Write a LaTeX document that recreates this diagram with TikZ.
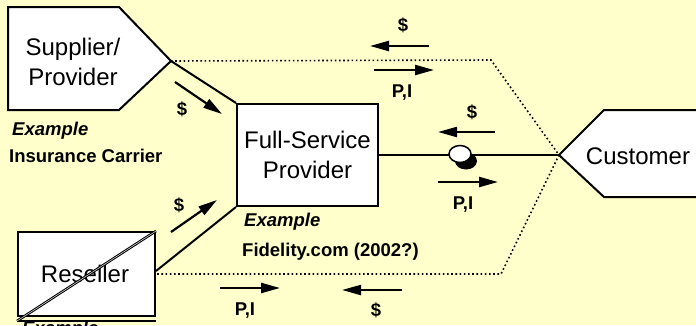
\documentclass[tikz,border=0pt]{standalone}
\usepackage{fontspec}
\setmainfont{Liberation Sans}
\usetikzlibrary{arrows.meta}
\definecolor{paper}{HTML}{FFFFCC}
\begin{document}
\begin{tikzpicture}[x=1pt,y=-1pt,
  outline/.style={draw=black,line width=2pt,fill=white,line join=miter},
  link/.style={line width=2pt},
  boundary/.style={line width=1.6pt,dash pattern=on 1.6pt off 2.6pt},
  flow/.style={line width=2.2pt,-{Triangle[length=19pt,width=10pt]}},
  tag/.style={font=\bfseries\fontsize{18.5}{20}\selectfont,inner sep=0pt},
  label/.style={font=\fontsize{24}{30}\selectfont,align=center,inner sep=0pt},
  exhead/.style={font=\bfseries\itshape\fontsize{18.5}{20}\selectfont,inner sep=0pt,anchor=base west},
  exbody/.style={font=\bfseries\fontsize{18.5}{20}\selectfont,inner sep=0pt,anchor=base west}]
\useasboundingbox (0,0) rectangle (696,325);
\clip (0,0) rectangle (696,325);
\fill[paper] (0,0) rectangle (696,325);

% corner points of the pentagon shapes
\coordinate (sup-tip) at (171,61);
\coordinate (cus-tip) at (559,155);
\coordinate (top-bend) at (491,60);
\coordinate (bot-bend) at (501,274);

% supplier pentagon
\draw[outline] (8,7) -- (119,7) -- (sup-tip) -- (119,110) -- (8,110) -- cycle;
\node[label] (sup) at (73,62) {Supplier/\\Provider};

% customer pentagon
\draw[outline] (cus-tip) -- (604,110) -- (705,110) -- (705,197) -- (604,197) -- cycle;
\node[label] (cus) at (638,156) {Customer};

% full-service provider box
\node[label,draw=black,line width=2pt,fill=white,minimum width=141pt,minimum height=102pt]
  (fsp) at (307.5,155) {Full-Service\\Provider};

% reseller box, crossed out
\node[label,draw=black,line width=2pt,fill=white,minimum width=137pt,minimum height=84pt]
  (res) at (86.5,274) {};
\draw[line width=1.4pt] ([yshift=-4pt]res.south west) -- ([yshift=-4pt]res.south east);
\node[label] (restext) at (85,274) {Reseller};
\draw[black,line width=1pt,double=gray!40,double distance=0.6pt]
  ([yshift=-4pt]res.south west) -- (res.north east);

% market boundary
\draw[boundary] (sup-tip) -- (top-bend) -- (cus-tip) -- (bot-bend) -- (res.east);

% channel links
\draw[link] (sup-tip) -- (fsp.north west);
\draw[link] ([yshift=3pt]res.east) -- (fsp.south west);
\draw[link] (fsp.east) -- (cus-tip);

% coin on the customer link
\coordinate (coin) at (460,154);
\fill[black] ([shift={(6,7)}]coin) ellipse [x radius=11, y radius=8.5];
\draw[line width=1.5pt,fill=white] (coin) ellipse [x radius=11, y radius=8.5];

% flow arrows
\coordinate (a1s) at (429,46);  \coordinate (a1e) at (370,46);
\coordinate (a2s) at (374,70);  \coordinate (a2e) at (434,70);
\coordinate (a3s) at (495,132); \coordinate (a3e) at (438,132);
\coordinate (a4s) at (438,182); \coordinate (a4e) at (498,182);
\coordinate (a5s) at (175,82);  \coordinate (a5e) at (222,114);
\coordinate (a6s) at (171,232); \coordinate (a6e) at (217,200);
\coordinate (a7s) at (220,288); \coordinate (a7e) at (280,288);
\coordinate (a8s) at (402,290); \coordinate (a8e) at (342,290);
\foreach \i in {1,...,8} \draw[flow] (a\i s) -- (a\i e);

\node[tag] (t1) at (403,25)  {\$};
\node[tag] (t2) at (402,93)  {P,I};
\node[tag] (t3) at (472,112) {\$};
\node[tag] (t4) at (463,205) {P,I};
\node[tag] (t5) at (182,109) {\$};
\node[tag] (t6) at (179,205) {\$};
\node[tag] (t7) at (245,311) {P,I};
\node[tag] (t8) at (376,310) {\$};

% examples
\node[exhead] (ex1) at (12,135)  {Example};
\node[exbody] (ex1b) at (9,162)  {Insurance Carrier};
\node[exhead] (ex2) at (244,226) {Example};
\node[exbody] (ex2b) at (242,256) {Fidelity.com (2002?)};
\node[exhead] (ex3) at (22,334)  {Example};
\end{tikzpicture}
\end{document}
